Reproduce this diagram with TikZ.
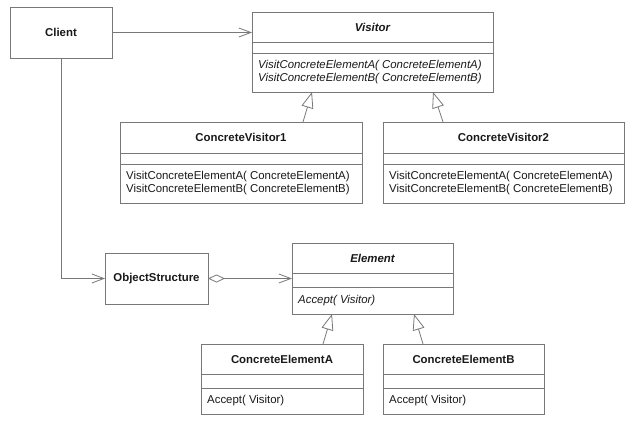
\documentclass[tikz,border=0pt]{standalone}
\usepackage{fontspec}
\setmainfont{Liberation Sans}
\usetikzlibrary{arrows.meta,calc}
\definecolor{lc}{RGB}{120,120,120}
\definecolor{tc}{RGB}{25,25,25}
\tikzset{
  box/.style={draw=lc, line width=0.8pt, fill=white, inner sep=0pt, outer sep=0pt, anchor=north west},
  sep/.style={draw=lc, line width=0.8pt},
  ttl/.style={text=tc, font=\fontsize{11.4}{13}\selectfont\bfseries, inner sep=0pt},
  meth/.style={text=tc, font=\fontsize{11.4}{13}\selectfont, inner sep=0pt, anchor=west, align=left},
  assoc/.style={draw=lc, line width=0.8pt, -{Straight Barb[length=12pt,width=9pt]}},
  gen/.style={draw=lc, line width=0.8pt, -{Triangle[open,length=16pt,width=12pt,fill=white]}},
  aggr/.style={draw=lc, line width=0.8pt, {Diamond[open,length=17pt,width=8pt,fill=white]}-{Straight Barb[length=12pt,width=9pt]}}
}
\begin{document}
\begin{tikzpicture}[x=1pt,y=-1pt]
\useasboundingbox[fill=white] (0,0) rectangle (634,423);

% Client
\node[box, minimum width=102pt, minimum height=51pt] (client) at (10,7) {};
\node[ttl] (clientT) at (client.center) {Client};

% Visitor
\node[box, minimum width=241pt, minimum height=80pt] (visitor) at (252,12) {};
\draw[sep] ([yshift=-30pt]visitor.north west) -- ([yshift=-30pt]visitor.north east);
\draw[sep] ([yshift=-41pt]visitor.north west) -- ([yshift=-41pt]visitor.north east);
\node[ttl] (visitorT) at ([yshift=-15pt]visitor.north) {\itshape Visitor};
\node[meth] (visitorM) at (258,72.5) {\itshape VisitConcreteElementA( ConcreteElementA)\\\itshape VisitConcreteElementB( ConcreteElementB)};

% ConcreteVisitor1
\node[box, minimum width=242pt, minimum height=81pt] (cv1) at (120,122) {};
\draw[sep] ([yshift=-31pt]cv1.north west) -- ([yshift=-31pt]cv1.north east);
\draw[sep] ([yshift=-42pt]cv1.north west) -- ([yshift=-42pt]cv1.north east);
\node[ttl] (cv1T) at ([yshift=-15.5pt]cv1.north) {ConcreteVisitor1};
\node[meth] (cv1M) at (126,183.5) {VisitConcreteElementA( ConcreteElementA)\\VisitConcreteElementB( ConcreteElementB)};

% ConcreteVisitor2
\node[box, minimum width=241pt, minimum height=81pt] (cv2) at (383,122) {};
\draw[sep] ([yshift=-31pt]cv2.north west) -- ([yshift=-31pt]cv2.north east);
\draw[sep] ([yshift=-42pt]cv2.north west) -- ([yshift=-42pt]cv2.north east);
\node[ttl] (cv2T) at ([yshift=-15.5pt]cv2.north) {ConcreteVisitor2};
\node[meth] (cv2M) at (389,183.5) {VisitConcreteElementA( ConcreteElementA)\\VisitConcreteElementB( ConcreteElementB)};

% ObjectStructure
\node[box, minimum width=103pt, minimum height=51pt] (os) at (105,253) {};
\node[ttl] (osT) at (os.center) {ObjectStructure};

% Element
\node[box, minimum width=161pt, minimum height=71pt] (elem) at (292,243) {};
\draw[sep] ([yshift=-30pt]elem.north west) -- ([yshift=-30pt]elem.north east);
\draw[sep] ([yshift=-44pt]elem.north west) -- ([yshift=-44pt]elem.north east);
\node[ttl] (elemT) at ([yshift=-15pt]elem.north) {\itshape Element};
\node[meth] (elemM) at (298,300.5) {\itshape Accept( Visitor)};

% ConcreteElementA
\node[box, minimum width=162pt, minimum height=70pt] (ceA) at (201,344) {};
\draw[sep] ([yshift=-30pt]ceA.north west) -- ([yshift=-30pt]ceA.north east);
\draw[sep] ([yshift=-44pt]ceA.north west) -- ([yshift=-44pt]ceA.north east);
\node[ttl] (ceAT) at ([yshift=-15pt]ceA.north) {ConcreteElementA};
\node[meth] (ceAM) at (207,400.5) {Accept( Visitor)};

% ConcreteElementB
\node[box, minimum width=161pt, minimum height=70pt] (ceB) at (383,344) {};
\draw[sep] ([yshift=-30pt]ceB.north west) -- ([yshift=-30pt]ceB.north east);
\draw[sep] ([yshift=-44pt]ceB.north west) -- ([yshift=-44pt]ceB.north east);
\node[ttl] (ceBT) at ([yshift=-15pt]ceB.north) {ConcreteElementB};
\node[meth] (ceBM) at (389,400.5) {Accept( Visitor)};

% connectors
\draw[assoc] (client.east) -- (client.east -| visitor.west);
\draw[assoc] (client.south) |- (os.west);
\draw[aggr] (os.east) -- (elem.west);
\draw[gen] ([xshift=183pt]cv1.north west) -- ([xshift=60pt]visitor.south west);
\draw[gen] ([xshift=60pt]cv2.north west) -- ([xshift=181pt]visitor.south west);
\draw[gen] ([xshift=122pt]ceA.north west) -- ([xshift=40pt]elem.south west);
\draw[gen] ([xshift=40pt]ceB.north west) -- ([xshift=122pt]elem.south west);
\end{tikzpicture}
\end{document}
